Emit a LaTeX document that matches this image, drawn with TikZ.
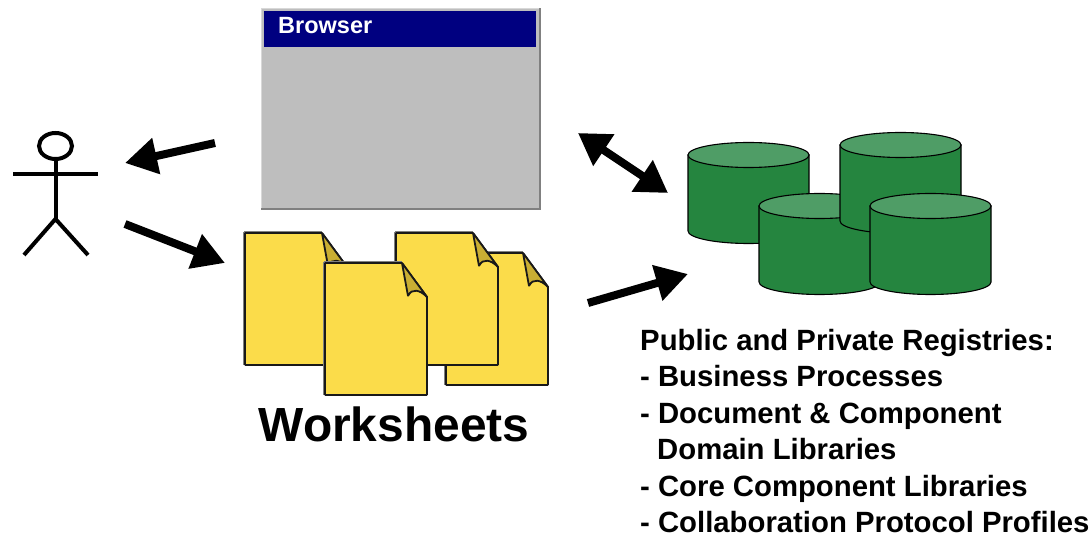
\documentclass[tikz,border=0pt]{standalone}
\usepackage{fontspec}
\setmainfont{Liberation Sans}
\usetikzlibrary{arrows.meta}
\definecolor{browsergray}{HTML}{BEBEBE}
\definecolor{browseredge}{HTML}{808080}
\definecolor{browsernavy}{HTML}{000080}
\definecolor{sheetyellow}{HTML}{FBDC4A}
\definecolor{sheetfold}{HTML}{C9AE33}
\definecolor{dbgreen}{HTML}{25853F}
\definecolor{dbtop}{HTML}{4F9D66}
\tikzset{
  flowarrow/.style={-{Triangle[length=32pt,width=35pt]}, line width=8pt},
  bothwayarrow/.style={{Triangle[length=31pt,width=36pt]}-{Triangle[length=31pt,width=36pt]}, line width=8pt},
  stickline/.style={line width=4pt, color=black},
  sheetedge/.style={line width=1.8pt, draw=black!90, rounded corners=0.6pt},
  dbedge/.style={line width=1.1pt, draw=black}
}
\begin{document}
\begin{tikzpicture}[x=1pt,y=1pt]
    \useasboundingbox (0,0) rectangle (1092,533);

    % Stick figure
    \draw[stickline] (55.5,387) ellipse (16.5pt and 13pt);
    \draw[stickline] (55.5,374) -- (55.5,314);
    \draw[stickline] (13,359) -- (98,359);
    \draw[stickline] (24,278) -- (55.5,314) -- (88,278);

    % Browser window
    \draw[fill=browsergray, draw=browsergray!60!white, line width=1pt] (261.5,323.5) rectangle (540,524);
    \draw[color=browseredge, line width=2.5pt] (261,324) -- (540,324) -- (540,525);
    \fill[browsernavy] (264,486) rectangle (536,522);
    \node[anchor=base west, inner sep=0pt, color=white, font=\fontsize{23.5}{28}\selectfont\bfseries] (browser) at (278,499) {Browser};

    % Worksheets (back to front)
    \foreach \x/\y in {245/300,446/280,396/300,325/270} {
        \begin{scope}[shift={(\x,\y)}]
            \draw[line width=1.6pt, color=browseredge] (-0.8,0.8) -- (77,0.8) (-0.8,0.8) -- (-0.8,-132);
            \draw[sheetedge, fill=sheetyellow] (0,0) -- (77,0) -- (102,-34) -- (102,-132) -- (0,-132) -- cycle;
            \draw[sheetedge, fill=sheetfold] (77,0) -- (83,-33) .. controls (87,-25) and (95,-27) .. (102,-34) -- cycle;
        \end{scope}
    }
    \node[font=\fontsize{47.9}{56}\selectfont\bfseries] (worksheets) at (394,109) {Worksheets};

    % Registries (back to front)
    \foreach \x/\y in {688/378,759/327,840/388,870/327} {
        \begin{scope}[shift={(\x,\y)}]
            \draw[dbedge, fill=dbgreen] (0,0) -- (0,-76) arc[start angle=180, end angle=360, x radius=60.5pt, y radius=12.5pt] -- (121,0) -- cycle;
            \draw[dbedge, fill=dbtop] (60.5,0) ellipse (60.5pt and 12.5pt);
        \end{scope}
    }

    % Registry contents
    \node[anchor=north west, inner sep=0pt, align=left, font=\fontsize{29.3}{36.4}\selectfont\bfseries] (registries) at (640,204) {Public and Private Registries:\\- Business Processes\\- Document \& Component\\\hspace*{17pt}Domain Libraries\\- Core Component Libraries\\- Collaboration Protocol Profiles};

    % Arrows
    \coordinate (browserout) at (215,390);
    \coordinate (actorin) at (125,370);
    \coordinate (actorout) at (125,309);
    \coordinate (sheetsin) at (225,270);
    \coordinate (browserside) at (578,400);
    \coordinate (registryside) at (668,340);
    \coordinate (sheetsout) at (588,230);
    \coordinate (registryin) at (688,259);
    \draw[flowarrow] (browserout) -- (actorin);
    \draw[flowarrow] (actorout) -- (sheetsin);
    \draw[bothwayarrow] (browserside) -- (registryside);
    \draw[flowarrow] (sheetsout) -- (registryin);
\end{tikzpicture}
\end{document}
